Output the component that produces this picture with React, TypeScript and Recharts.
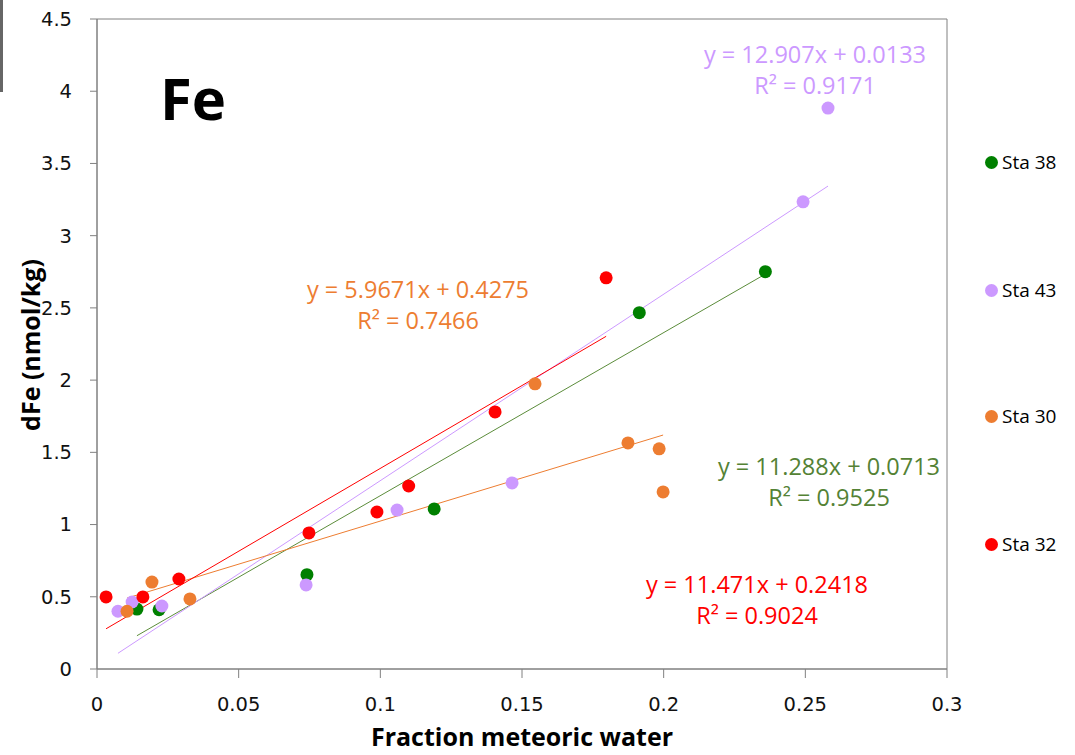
import React from "react";
import {
  ScatterChart,
  Scatter,
  XAxis,
  YAxis,
  ReferenceLine,
  ReferenceArea,
} from "recharts";

// values
const sta38X = [0.0141, 0.0219, 0.0741, 0.119, 0.1914, 0.2359];
const sta38Y = [0.415, 0.41, 0.653, 1.108, 2.467, 2.751];

const sta43X = [0.0074, 0.0124, 0.0229, 0.0738, 0.1059, 0.1465, 0.2492, 0.258];
const sta43Y = [0.4, 0.464, 0.436, 0.582, 1.1, 1.288, 3.234, 3.883];

const sta30X = [0.0106, 0.0194, 0.0328, 0.1546, 0.1874, 0.1984, 0.1998];
const sta30Y = [0.4, 0.602, 0.485, 1.974, 1.565, 1.524, 1.226];

const sta32X = [0.0032, 0.0162, 0.0289, 0.0748, 0.0988, 0.11, 0.1405, 0.1797];
const sta32Y = [0.499, 0.499, 0.623, 0.942, 1.087, 1.267, 1.78, 2.708];

const stationNames = ["Sta 38", "Sta 43", "Sta 30", "Sta 32"];
const slopes = [11.288, 12.907, 5.9671, 11.471];
const intercepts = [0.0713, 0.0133, 0.4275, 0.2418];
const r2Values = ["0.9525", "0.9171", "0.7466", "0.9024"];

const xTicks = [0, 0.05, 0.1, 0.15, 0.2, 0.25, 0.3];
const yTicks = [0, 0.5, 1, 1.5, 2, 2.5, 3, 3.5, 4, 4.5];

const markerColors = ["#008000", "#CC99FF", "#ED7D31", "#FF0000"];
const lineColors = ["#5B8C3A", "#CC99FF", "#ED7D31", "#FF0000"];
const textColors = ["#548235", "#CC99FF", "#ED7D31", "#FF0000"];

// where each equation box sits (centre x, top y of first line)
const eqPos = [
  { cx: 829, top: 451 },
  { cx: 815, top: 39 },
  { cx: 418, top: 274 },
  { cx: 757, top: 569 },
];
const legendTops = [162, 290, 416, 544];

const seriesX = [sta38X, sta43X, sta30X, sta32X];
const seriesY = [sta38Y, sta43Y, sta30Y, sta32Y];

const series = seriesX.map((xs, i) => xs.map((x, j) => ({ x, y: seriesY[i][j] })));

const trend = seriesX.map((xs, i) => {
  const x0 = Math.min(...xs);
  const x1 = Math.max(...xs);
  return [
    { x: x0, y: slopes[i] * x0 + intercepts[i] },
    { x: x1, y: slopes[i] * x1 + intercepts[i] },
  ];
});

const AXIS = "#808080";
const TICK_FONT = { fontFamily: "'DejaVu Sans'", fontSize: 19.5, fill: "#111" };
const TEXT_FONT = "'Open Sans', sans-serif";

const dot = (color: string) => (p: any) => (
  <circle cx={p.cx} cy={p.cy} r={6.5} fill={color} />
);

export default function App() {
  return (
    <div style={{ position: "absolute", left: 0, top: 0, width: 1075, height: 755, background: "#fff", overflow: "hidden" }}>
      <ScatterChart width={1075} height={755} margin={{ top: 19, right: 128, bottom: 0, left: 0 }}>
        <XAxis
          type="number"
          dataKey="x"
          domain={[0, 0.3]}
          ticks={xTicks}
          height={86}
          tickSize={9}
          tickMargin={19}
          stroke={AXIS}
          tick={TICK_FONT}
          allowDataOverflow
        />
        <YAxis
          type="number"
          dataKey="y"
          domain={[0, 4.5]}
          ticks={yTicks}
          width={97}
          tickSize={7}
          tickMargin={18}
          stroke={AXIS}
          tick={TICK_FONT}
          allowDataOverflow
        />
        <ReferenceArea x1={0} x2={0.3} y1={0} y2={4.5} fill="none" stroke={AXIS} strokeWidth={1} />
        {series.map((d, i) => (
          <Scatter
            key={stationNames[i]}
            name={stationNames[i]}
            data={d}
            fill={markerColors[i]}
            shape={dot(markerColors[i])}
            isAnimationActive={false}
          />
        ))}
        {trend.map((seg, i) => (
          <ReferenceLine
            key={"t" + i}
            segment={seg}
            stroke={lineColors[i]}
            strokeWidth={1}
            ifOverflow="visible"
          />
        ))}
      </ScatterChart>

      {/* equations */}
      {eqPos.map((p, i) => (
        <div
          key={"eq" + i}
          style={{
            position: "absolute",
            left: p.cx - 150,
            top: p.top,
            width: 300,
            textAlign: "center",
            fontFamily: TEXT_FONT,
            fontSize: 23.5,
            lineHeight: "31px",
            color: textColors[i],
            whiteSpace: "nowrap",
          }}
        >
          <div>{`y = ${slopes[i]}x + ${intercepts[i]}`}</div>
          <div>{`R² = ${r2Values[i]}`}</div>
        </div>
      ))}

      {/* legend */}
      {stationNames.map((n, i) => (
        <div
          key={"lg" + i}
          style={{
            position: "absolute",
            left: 985,
            top: legendTops[i] - 13,
            height: 26,
            display: "flex",
            alignItems: "center",
            fontFamily: TEXT_FONT,
            fontSize: 19,
            color: "#000",
          }}
        >
          <span style={{ display: "inline-block", width: 13, height: 13, borderRadius: "50%", background: markerColors[i], marginRight: 4 }} />
          {n}
        </div>
      ))}

      <div style={{ position: "absolute", left: 160, top: 59, fontFamily: TEXT_FONT, fontWeight: 700, fontSize: 58, lineHeight: "78px", color: "#000" }}>
        Fe
      </div>

      <div
        style={{
          position: "absolute",
          left: 30 - 150,
          top: 345 - 17,
          width: 300,
          height: 34,
          lineHeight: "34px",
          textAlign: "center",
          transform: "rotate(-90deg)",
          fontFamily: TEXT_FONT,
          fontWeight: 700,
          fontSize: 25,
          color: "#000",
        }}
      >
        dFe (nmol/kg)
      </div>

      <div
        style={{
          position: "absolute",
          left: 522 - 200,
          top: 720,
          width: 400,
          textAlign: "center",
          fontFamily: TEXT_FONT,
          fontWeight: 700,
          fontSize: 25,
          lineHeight: "32px",
          color: "#000",
        }}
      >
        Fraction meteoric water
      </div>

      <div style={{ position: "absolute", left: 0, top: 0, width: 3, height: 92, background: "#666" }} />
    </div>
  );
}
